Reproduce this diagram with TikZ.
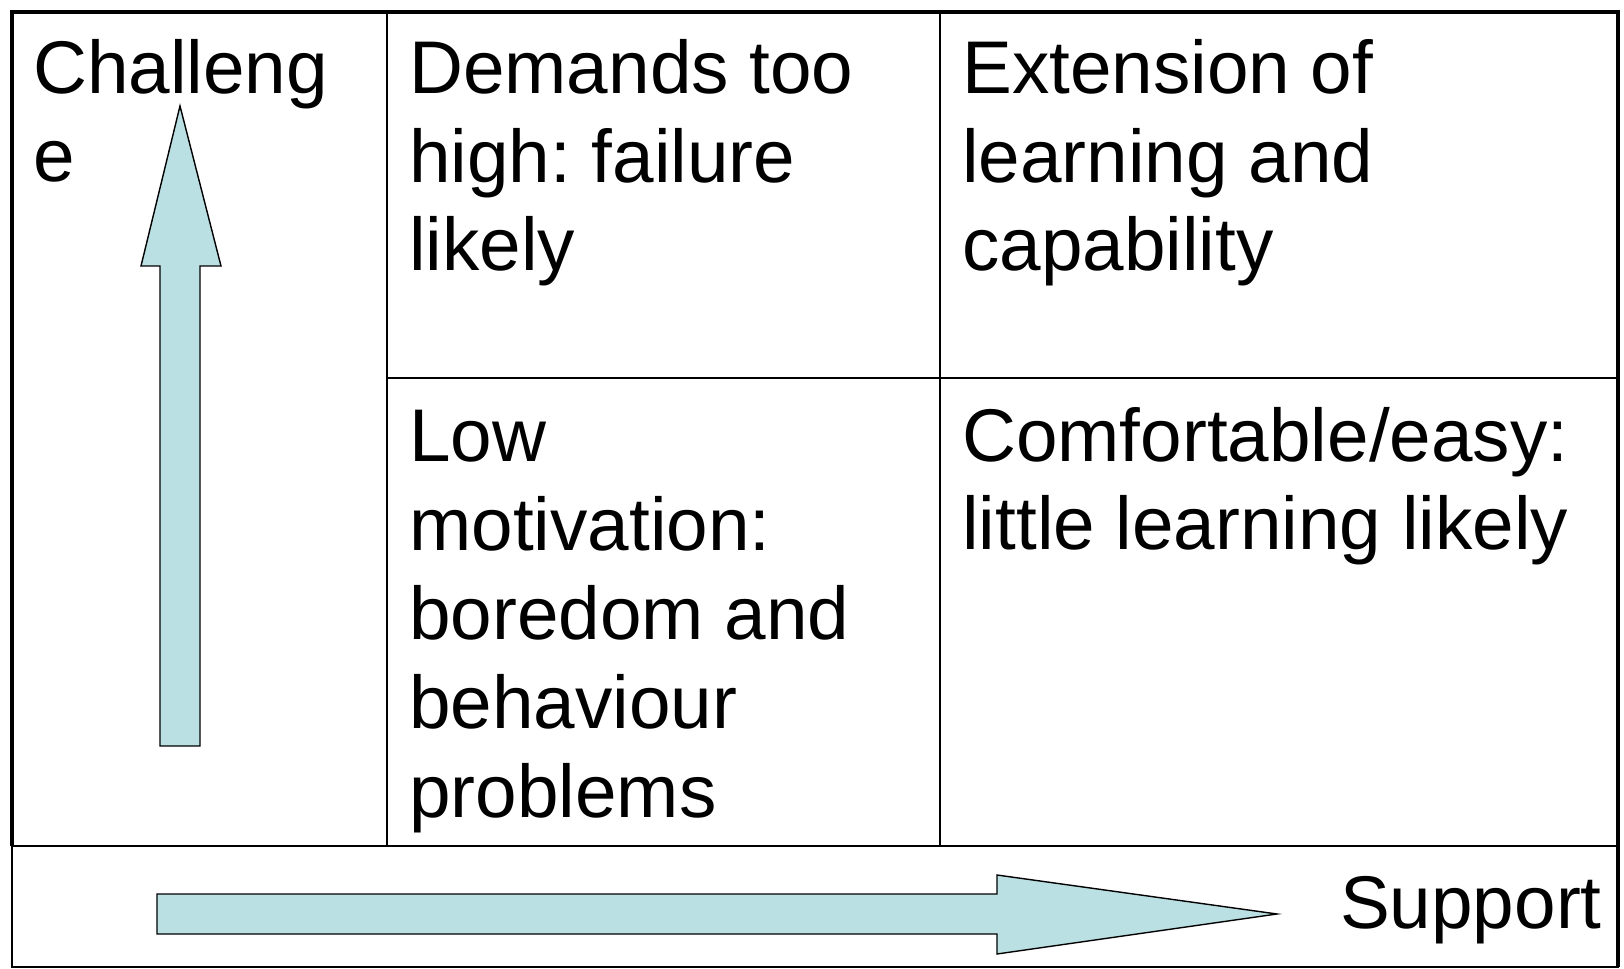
\documentclass[tikz,border=0pt]{standalone}
\usepackage{fontspec}
\setmainfont{Liberation Sans}
\usepackage{xcolor}
\definecolor{arrowfill}{RGB}{187,224,227}

\begin{document}
\begin{tikzpicture}[
			     x=0.02cm, y=-0.02cm,
			     cell/.style={anchor=base west, inner sep=0pt, align=left,
			                  font=\fontsize{42.5}{50.6}\selectfont\frenchspacing},
			     frame line/.style={line width=2.6pt},
			     grid line/.style={line width=1.1pt},
			     arrow body/.style={fill=arrowfill, draw=black, line width=0.8pt, line join=miter}
			     ]
\useasboundingbox (0,0) rectangle (1624,969);
% table frame and the lower strip
\draw[grid line] (12,846) rectangle (1618,967);
\draw[grid line] (387,12) -- (387,846);
\draw[grid line] (940,12) -- (940,846);
\draw[grid line] (387,378) -- (1618,378);
\draw[frame line] (12,846) -- (12,12) -- (1618,12) -- (1618,967);
% the two axes
\draw[arrow body] (160,746) -- (160,266) -- (141,266) -- (180,106) -- (221,266) -- (200,266) -- (200,746) -- cycle;
\draw[arrow body] (157,894) -- (997,894) -- (997,875) -- (1277,914) -- (997,954) -- (997,934) -- (157,934) -- cycle;
% labels (placed by the baseline of their last line)
\node[cell] (chal) at (33,182) {Challeng\\e};
\node[cell] (high) at (409,271) {Demands too\\high: failure\\likely};
\node[cell] (ext) at (962,271) {Extension of\\learning and\\capability};
\node[cell] (low) at (409,817) {Low\\motivation:\\boredom and\\behaviour\\problems};
\node[cell] (easy) at (962,550) {Comfortable/easy:\\little learning likely};
\node[cell, anchor=base east] (supp) at (1602,928) {Support};
\end{tikzpicture}
\end{document}
